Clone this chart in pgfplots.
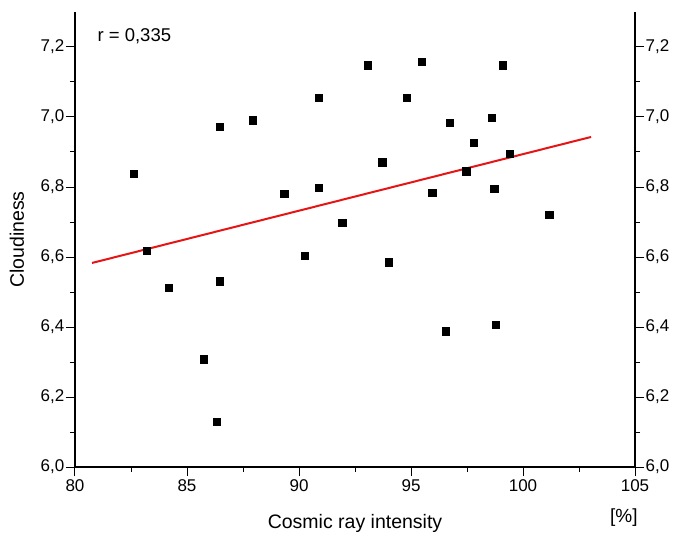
\documentclass[border=0pt]{standalone}
\usepackage{fontspec}
\setmainfont{Liberation Sans}
\usepackage{pgfplots}
\pgfplotsset{compat=1.18}
\definecolor{fitred}{RGB}{230,20,20}

\pgfplotsset{cloudax/.style={
    scale only axis, width=560pt, height=455pt,
    xmin=80, xmax=105, ymin=6.0, ymax=7.3,
    xtick={80,85,...,105}, ytick={6.0,6.2,...,7.21},
    minor x tick num=1, minor y tick num=1,
    tick align=outside,
    major tick length=9pt, minor tick length=5pt,
    every tick/.style={black, line width=1pt},
    axis line style={line width=1.1pt, -},
    clip=false,
    /pgf/number format/assume math mode=true,
    tick label style={font=\fontsize{17}{20}\selectfont},
    yticklabel style={inner xsep=1.5pt, /pgf/number format/.cd, fixed, fixed zerofill, precision=1, use comma},
    xticklabel style={/pgf/number format/.cd, fixed, precision=0}
}}

\begin{document}
\begin{tikzpicture}
\useasboundingbox (-75pt,-69pt) rectangle (601pt,467pt);
\begin{axis}[cloudax,
    axis x line*=bottom, axis y line*=left,
    xlabel={Cosmic ray intensity}, ylabel={Cloudiness},
    label style={font=\fontsize{19.5}{22}\selectfont},
    xlabel style={at={(axis description cs:0.5,-0.123)}, anchor=center},
    ylabel style={at={(axis description cs:-0.1036,0.5)}, anchor=center}]
  \addplot[only marks, mark=square*, mark size=3.6pt, black] coordinates {
    (82.62,6.839) (83.20,6.619) (86.47,6.973) (87.95,6.991) (89.34,6.781)
    (90.89,7.054) (90.89,6.799) (90.24,6.603)
    (93.08,7.148) (95.46,7.158) (99.08,7.148) (94.82,7.056) (96.73,6.983)
    (98.60,6.999) (97.81,6.927) (99.42,6.896) (93.71,6.871) (97.46,6.845)
    (95.95,6.784) (98.71,6.796) (101.17,6.721) (91.93,6.697) (94.02,6.585)
    (84.20,6.512) (86.46,6.531) (85.73,6.308) (86.33,6.130)
    (96.55,6.388) (98.79,6.407)
  };
  \addplot[fitred, line width=2pt] coordinates {(80.76,6.583) (103.04,6.943)};
  \node[anchor=west, font=\fontsize{18.5}{22}\selectfont] at (axis cs:80.85,7.232) {r = 0,335};
  \node[font=\fontsize{19}{22}\selectfont] at (axis cs:104.5,5.855) {[\%]};
\end{axis}
\begin{axis}[cloudax,
    axis x line=none, axis y line*=right]
\end{axis}
\end{tikzpicture}
\end{document}
